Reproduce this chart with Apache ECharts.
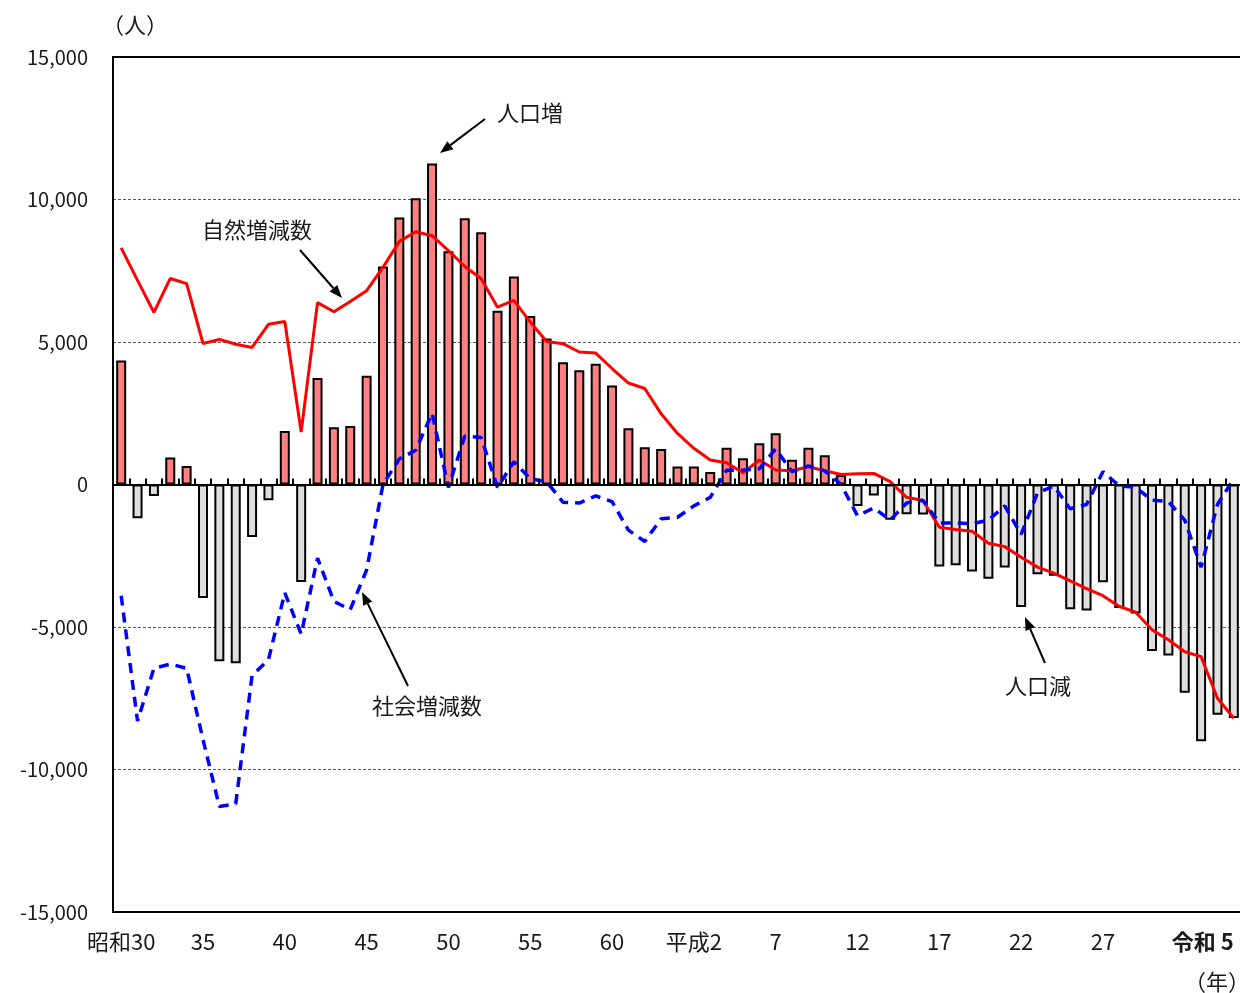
<!DOCTYPE html>
<html>
<head>
<meta charset="utf-8">
<script src="https://cdn.jsdelivr.net/npm/echarts@6.0.0/dist/echarts.min.js"></script>
<style>
  html, body { margin: 0; padding: 0; background: #ffffff; }
  #chart { width: 1240px; height: 993px; }
</style>
</head>
<body>
<div id="chart"></div>
<script>
// years 昭和30 (1955) .. 令和5 (2023)
const years = [
  '1955', '1956', '1957', '1958', '1959', '1960', '1961', '1962', '1963', '1964',
  '1965', '1966', '1967', '1968', '1969', '1970', '1971', '1972', '1973', '1974',
  '1975', '1976', '1977', '1978', '1979', '1980', '1981', '1982', '1983', '1984',
  '1985', '1986', '1987', '1988', '1989', '1990', '1991', '1992', '1993', '1994',
  '1995', '1996', '1997', '1998', '1999', '2000', '2001', '2002', '2003', '2004',
  '2005', '2006', '2007', '2008', '2009', '2010', '2011', '2012', '2013', '2014',
  '2015', '2016', '2017', '2018', '2019', '2020', '2021', '2022', '2023'
];

// 人口増減 (bars)
const popChange = [
  4350, -1180, -400, 950, 650, -3980, -6200, -6270, -1840, -550,
  1880, -3420, 3740, 2010, 2050, 3820, 7650, 9370, 10040, 11260,
  8180, 9340, 8850, 6100, 7300, 5910, 5120, 4290, 4010, 4240,
  3470, 1970, 1310, 1250, 630, 630, 440, 1290, 920, 1450,
  1800, 870, 1290, 1030, 330, -750, -390, -1240, -1040, -1050,
  -2880, -2830, -3050, -3310, -2910, -4300, -3150, -3200, -4380, -4420,
  -3430, -4330, -4530, -5840, -6000, -7310, -9010, -8080, -8190
];

// 自然増減数 (red line)
const naturalChange = [
  8300, 7160, 6040, 7230, 7050, 4950, 5090, 4920, 4810, 5620,
  5720, 1840, 6380, 6060, 6420, 6800, 7620, 8530, 8870, 8730,
  8210, 7650, 7220, 6220, 6460, 5700, 5020, 4940, 4650, 4610,
  4070, 3560, 3370, 2480, 1790, 1270, 860, 760, 410, 860,
  510, 480, 620, 480, 350, 380, 390, 100, -450, -560,
  -1500, -1580, -1640, -2060, -2180, -2550, -2900, -3110, -3380, -3650,
  -3900, -4280, -4480, -5100, -5450, -5870, -6040, -7500, -8200
];

// 社会増減数 (blue dashed line)
const socialChange = [
  -3900, -8300, -6450, -6300, -6450, -8950, -11300, -11200, -6700, -6150,
  -3800, -5250, -2580, -4100, -4390, -3000, 0, 900, 1200, 2500,
  -100, 1700, 1650, -100, 800, 200, 100, -620, -650, -400,
  -600, -1600, -2000, -1200, -1150, -750, -450, 500, 500, 550,
  1250, 450, 650, 480, 0, -1100, -820, -1250, -650, -550,
  -1350, -1350, -1380, -1250, -750, -1750, -300, -50, -850, -700,
  450, -50, -100, -550, -600, -1250, -2900, -700, 200
];

// x tick labels (every 5 years, era names)
const tickLabels = {
  '1955': '昭和30', '1960': '35', '1965': '40', '1970': '45', '1975': '50',
  '1980': '55', '1985': '60', '1990': '平成2', '1995': '7', '2000': '12',
  '2005': '17', '2010': '22', '2015': '27', '2023': '令和 5'
};

const yTicks = { min: -15000, max: 15000, step: 5000 };

const FONT = "'Noto Sans CJK JP', 'Noto Sans', sans-serif";
const C = {
  text: '#1a1a1a',
  up: '#ff8080',
  down: '#dedede',
  natural: '#ff0000',
  social: '#0000ff',
  grid: '#555555',
};

function arrow(x1, y1, x2, y2) {
  const a = Math.atan2(y2 - y1, x2 - x1);
  const L = 13, W = 5;
  const bx = x2 - L * Math.cos(a);
  const by = y2 - L * Math.sin(a);
  return [
    { type: 'line', shape: { x1: x1, y1: y1, x2: bx, y2: by }, style: { stroke: '#000', lineWidth: 2 }, z: 100 },
    {
      type: 'polygon',
      shape: { points: [[x2, y2], [bx + W * Math.sin(a), by - W * Math.cos(a)], [bx - W * Math.sin(a), by + W * Math.cos(a)]] },
      style: { fill: '#000' },
      z: 100,
    },
  ];
}

function label(text, x, y, align) {
  return {
    type: 'text', x: x, y: y, z: 100,
    style: { text: text, fontSize: 22, fontFamily: FONT, fill: C.text, align: align || 'left', verticalAlign: 'middle' },
  };
}

const option = {
  animation: false,
  backgroundColor: '#ffffff',
  textStyle: { fontFamily: FONT },
  grid: {
    left: 113, top: 57, width: 1129, height: 855,
    show: true, borderColor: '#000', borderWidth: 2, backgroundColor: 'transparent',
    z: 10,
    containLabel: false, outerBoundsMode: 'none',
  },
  xAxis: [
    {
      type: 'category',
      data: years,
      position: 'bottom',
      axisLine: { show: false, onZero: false },
      axisTick: { show: false },
      splitLine: { show: false },
      axisLabel: {
        interval: 0,
        margin: 19,
        fontSize: 22,
        fontFamily: FONT,
        color: C.text,
        alignMaxLabel: 'right',
        formatter: (v) => {
          const t = tickLabels[v] || '';
          return v === '2023' ? '{b|' + t + '}' : t;
        },
        rich: { b: { fontSize: 22, fontFamily: FONT, fontWeight: 'bold', color: C.text } },
      },
    },
    {
      type: 'category',
      data: years,
      position: 'bottom',
      z: 6,
      axisLine: { show: true, onZero: true, lineStyle: { color: '#000', width: 2 } },
      axisTick: { show: true, inside: true, alignWithLabel: false, length: 6, interval: 0, lineStyle: { color: '#000', width: 2 } },
      axisLabel: { show: false },
      splitLine: { show: false },
    },
  ],
  yAxis: {
    type: 'value',
    min: yTicks.min,
    max: yTicks.max,
    interval: yTicks.step,
    axisLine: { show: false },
    axisTick: { show: false },
    splitLine: { show: true, lineStyle: { color: C.grid, width: 1, type: [3, 2] } },
    axisLabel: {
      margin: 25,
      fontSize: 20,
      fontFamily: FONT,
      color: C.text,
      formatter: (v) => v.toLocaleString('en-US'),
    },
  },
  series: [
    {
      name: '人口増減',
      type: 'bar',
      xAxisIndex: 0,
      data: popChange,
      barWidth: 10,
      itemStyle: {
        color: (p) => (p.value >= 0 ? C.up : C.down),
        borderColor: '#000',
        borderWidth: 2,
      },
      z: 2,
    },
    {
      name: '自然増減数',
      type: 'line',
      xAxisIndex: 0,
      data: naturalChange,
      symbol: 'none',
      lineStyle: { color: C.natural, width: 3 },
      z: 4,
    },
    {
      name: '社会増減数',
      type: 'line',
      xAxisIndex: 0,
      data: socialChange,
      symbol: 'none',
      lineStyle: { color: C.social, width: 3.5, type: [10, 7] },
      z: 5,
    },
  ],
  graphic: [
    label('（人）', 135, 25, 'center'),
    label('（年）', 1217, 982, 'center'),
    label('人口増', 497, 113),
    ...arrow(485, 119, 440, 153),
    label('自然増減数', 202, 230),
    ...arrow(300, 250, 342, 298),
    label('社会増減数', 372, 706),
    ...arrow(408, 686, 362, 592),
    label('人口減', 1005, 686),
    ...arrow(1045, 663, 1025, 617),
  ],
};

const chart = echarts.init(document.getElementById('chart'), null, { renderer: 'canvas' });
chart.setOption(option);
</script>
</body>
</html>
